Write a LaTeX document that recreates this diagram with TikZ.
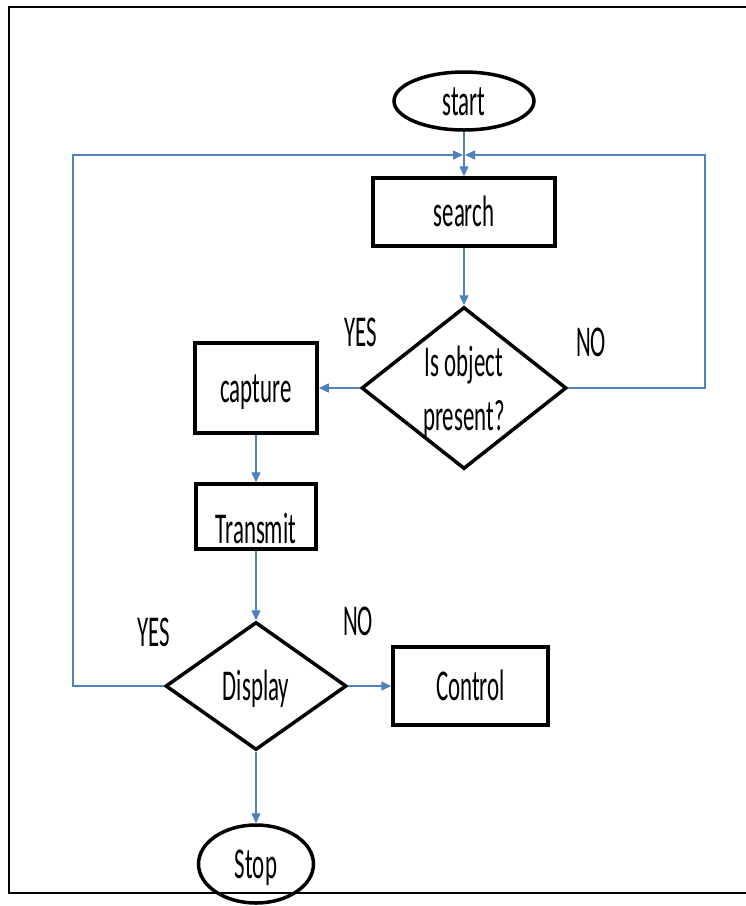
\documentclass[tikz,border=0pt]{standalone}
\usepackage{fontspec}
\setmainfont{Carlito}[FakeStretch=0.52]
\usetikzlibrary{shapes.geometric,arrows.meta}
\definecolor{linkblue}{RGB}{79,129,189}
\begin{document}
\begin{tikzpicture}[x=1pt,y=-1pt,
  every node/.style={font=\fontsize{44}{54}\selectfont, inner sep=0pt},
  box/.style={draw, line width=3.5pt, rectangle, text height=28pt, text depth=0pt},
  term/.style={draw, line width=3.5pt, ellipse, text height=28pt, text depth=0pt},
  dec/.style={draw, line width=3.5pt, diamond},
  lbl/.style={text height=28pt, text depth=0pt},
  conn/.style={draw=linkblue, line width=1.4pt, -{Triangle[length=10pt,width=9pt]}}]
\useasboundingbox (0,0) rectangle (746,906);
\draw[line width=2pt] (746,7) -- (9,7) -- (9,893) -- (746,893);

\node[term, minimum width=140pt, minimum height=58pt] (start) at (464,101) {start};
\node[box, minimum width=182pt, minimum height=68pt] (search) at (464,212) {search};
\node[dec, minimum width=205pt, minimum height=162pt] (obj) at (464,388) {};
\node[align=center] (objtxt) at (464,392) {Is object\\present?};
\node[box, minimum width=122pt, minimum height=90pt] (capture) at (256,388) {capture};
\node[box, minimum width=120pt, minimum height=65pt, text height=54pt] (transmit) at (256,516.5) {Transmit};
\node[dec, minimum width=181pt, minimum height=128pt, text height=28pt, text depth=0pt] (disp) at (256,686) {Display};
\node[box, minimum width=155pt, minimum height=78pt] (control) at (470.5,686) {Control};
\node[term, minimum width=115pt, minimum height=78pt] (stop) at (256,864) {Stop};

\node[lbl] (yes1) at (361,332) {YES};
\node[lbl] (no1) at (591,342) {NO};
\node[lbl] (yes2) at (154,632) {YES};
\node[lbl] (no2) at (358,621) {NO};

\coordinate (merge) at (464,155);
\coordinate (leftc) at (73,155);
\coordinate (rightc) at (705,155);

\draw[conn] (start) -- (search);
\draw[conn] (search) -- (obj);
\draw[conn] (obj.west) -- (capture.east);
\draw[conn] (obj.east) -- (obj.east -| rightc) -- (rightc) -- ([xshift=1pt]merge);
\draw[conn] (capture) -- (transmit);
\draw[conn] (transmit) -- (disp);
\draw[conn] (disp.west) -- (disp.west -| leftc) -- (leftc) -- ([xshift=-1pt]merge);
\draw[conn] (disp.east) -- (control.west);
\draw[conn] (disp) -- (stop);
\end{tikzpicture}
\end{document}
